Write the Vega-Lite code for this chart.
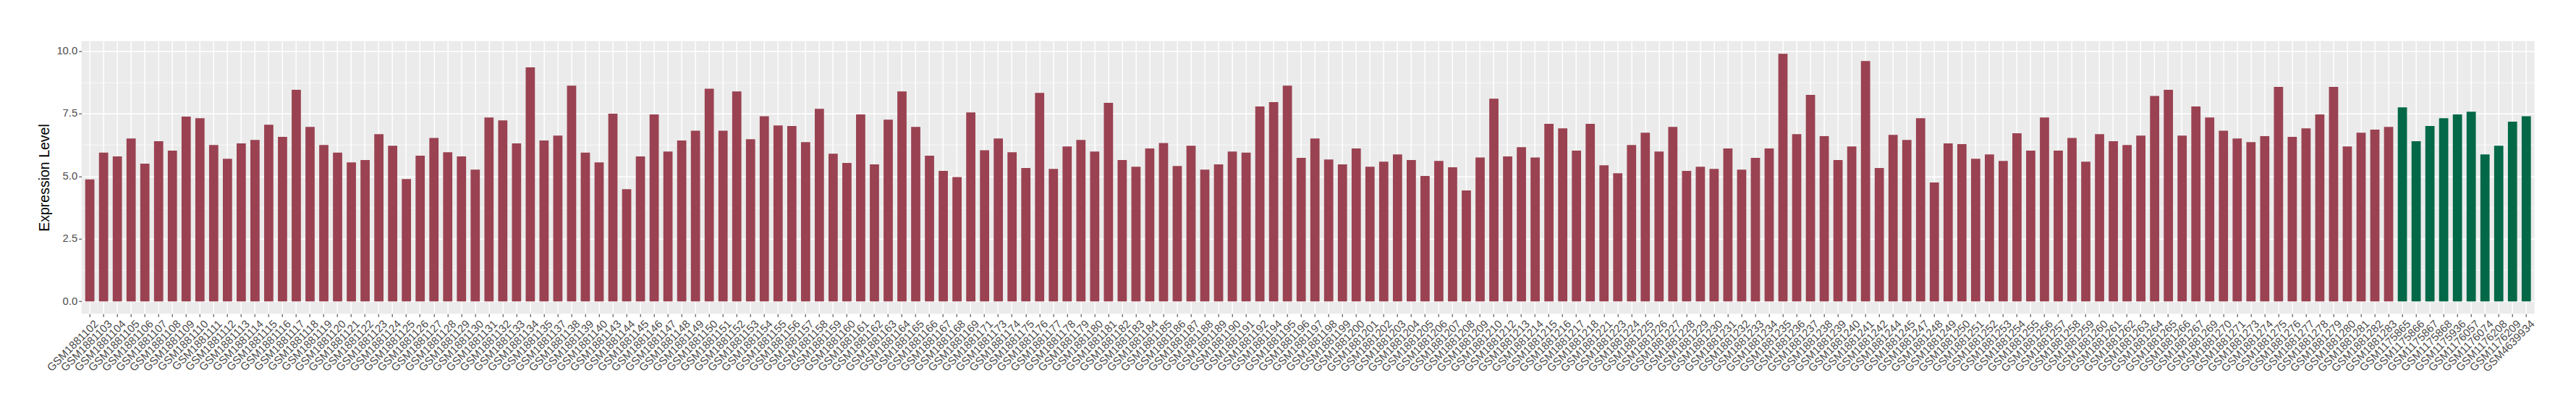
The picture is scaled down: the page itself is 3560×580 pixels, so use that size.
{
  "$schema": "https://vega.github.io/schema/vega-lite/v6.json",
  "autosize": {"type": "none"},
  "width": 3390,
  "height": 376.6,
  "padding": {"left": 112.7, "top": 56.7, "right": 57.3, "bottom": 146.7},
  "background": "white",
  "view": {"fill": "#EBEBEB", "stroke": null},
  "data": {"values": [
    {"sample": "GSM1881102", "value": 4.87, "group": "A"},
    {"sample": "GSM1881103", "value": 5.94, "group": "A"},
    {"sample": "GSM1881104", "value": 5.79, "group": "A"},
    {"sample": "GSM1881105", "value": 6.51, "group": "A"},
    {"sample": "GSM1881106", "value": 5.50, "group": "A"},
    {"sample": "GSM1881107", "value": 6.40, "group": "A"},
    {"sample": "GSM1881108", "value": 6.02, "group": "A"},
    {"sample": "GSM1881109", "value": 7.38, "group": "A"},
    {"sample": "GSM1881110", "value": 7.32, "group": "A"},
    {"sample": "GSM1881111", "value": 6.25, "group": "A"},
    {"sample": "GSM1881112", "value": 5.70, "group": "A"},
    {"sample": "GSM1881113", "value": 6.31, "group": "A"},
    {"sample": "GSM1881114", "value": 6.45, "group": "A"},
    {"sample": "GSM1881115", "value": 7.06, "group": "A"},
    {"sample": "GSM1881116", "value": 6.57, "group": "A"},
    {"sample": "GSM1881117", "value": 8.45, "group": "A"},
    {"sample": "GSM1881118", "value": 6.97, "group": "A"},
    {"sample": "GSM1881119", "value": 6.25, "group": "A"},
    {"sample": "GSM1881120", "value": 5.94, "group": "A"},
    {"sample": "GSM1881121", "value": 5.55, "group": "A"},
    {"sample": "GSM1881122", "value": 5.65, "group": "A"},
    {"sample": "GSM1881123", "value": 6.68, "group": "A"},
    {"sample": "GSM1881124", "value": 6.22, "group": "A"},
    {"sample": "GSM1881125", "value": 4.89, "group": "A"},
    {"sample": "GSM1881126", "value": 5.82, "group": "A"},
    {"sample": "GSM1881127", "value": 6.53, "group": "A"},
    {"sample": "GSM1881128", "value": 5.96, "group": "A"},
    {"sample": "GSM1881129", "value": 5.79, "group": "A"},
    {"sample": "GSM1881130", "value": 5.26, "group": "A"},
    {"sample": "GSM1881131", "value": 7.35, "group": "A"},
    {"sample": "GSM1881132", "value": 7.23, "group": "A"},
    {"sample": "GSM1881133", "value": 6.31, "group": "A"},
    {"sample": "GSM1881134", "value": 9.35, "group": "A"},
    {"sample": "GSM1881135", "value": 6.43, "group": "A"},
    {"sample": "GSM1881137", "value": 6.62, "group": "A"},
    {"sample": "GSM1881138", "value": 8.62, "group": "A"},
    {"sample": "GSM1881139", "value": 5.94, "group": "A"},
    {"sample": "GSM1881140", "value": 5.55, "group": "A"},
    {"sample": "GSM1881143", "value": 7.50, "group": "A"},
    {"sample": "GSM1881144", "value": 4.48, "group": "A"},
    {"sample": "GSM1881145", "value": 5.79, "group": "A"},
    {"sample": "GSM1881146", "value": 7.47, "group": "A"},
    {"sample": "GSM1881147", "value": 5.99, "group": "A"},
    {"sample": "GSM1881148", "value": 6.43, "group": "A"},
    {"sample": "GSM1881149", "value": 6.82, "group": "A"},
    {"sample": "GSM1881150", "value": 8.50, "group": "A"},
    {"sample": "GSM1881151", "value": 6.82, "group": "A"},
    {"sample": "GSM1881152", "value": 8.39, "group": "A"},
    {"sample": "GSM1881153", "value": 6.48, "group": "A"},
    {"sample": "GSM1881154", "value": 7.40, "group": "A"},
    {"sample": "GSM1881155", "value": 7.03, "group": "A"},
    {"sample": "GSM1881156", "value": 7.01, "group": "A"},
    {"sample": "GSM1881157", "value": 6.36, "group": "A"},
    {"sample": "GSM1881158", "value": 7.69, "group": "A"},
    {"sample": "GSM1881159", "value": 5.90, "group": "A"},
    {"sample": "GSM1881160", "value": 5.53, "group": "A"},
    {"sample": "GSM1881161", "value": 7.47, "group": "A"},
    {"sample": "GSM1881162", "value": 5.47, "group": "A"},
    {"sample": "GSM1881163", "value": 7.26, "group": "A"},
    {"sample": "GSM1881164", "value": 8.39, "group": "A"},
    {"sample": "GSM1881165", "value": 6.97, "group": "A"},
    {"sample": "GSM1881166", "value": 5.82, "group": "A"},
    {"sample": "GSM1881167", "value": 5.21, "group": "A"},
    {"sample": "GSM1881168", "value": 4.97, "group": "A"},
    {"sample": "GSM1881169", "value": 7.55, "group": "A"},
    {"sample": "GSM1881171", "value": 6.04, "group": "A"},
    {"sample": "GSM1881173", "value": 6.51, "group": "A"},
    {"sample": "GSM1881174", "value": 5.96, "group": "A"},
    {"sample": "GSM1881175", "value": 5.33, "group": "A"},
    {"sample": "GSM1881176", "value": 8.33, "group": "A"},
    {"sample": "GSM1881177", "value": 5.29, "group": "A"},
    {"sample": "GSM1881178", "value": 6.19, "group": "A"},
    {"sample": "GSM1881179", "value": 6.45, "group": "A"},
    {"sample": "GSM1881180", "value": 5.99, "group": "A"},
    {"sample": "GSM1881181", "value": 7.93, "group": "A"},
    {"sample": "GSM1881182", "value": 5.65, "group": "A"},
    {"sample": "GSM1881183", "value": 5.38, "group": "A"},
    {"sample": "GSM1881184", "value": 6.11, "group": "A"},
    {"sample": "GSM1881185", "value": 6.33, "group": "A"},
    {"sample": "GSM1881186", "value": 5.41, "group": "A"},
    {"sample": "GSM1881187", "value": 6.22, "group": "A"},
    {"sample": "GSM1881188", "value": 5.26, "group": "A"},
    {"sample": "GSM1881189", "value": 5.47, "group": "A"},
    {"sample": "GSM1881190", "value": 5.99, "group": "A"},
    {"sample": "GSM1881191", "value": 5.94, "group": "A"},
    {"sample": "GSM1881192", "value": 7.79, "group": "A"},
    {"sample": "GSM1881194", "value": 7.96, "group": "A"},
    {"sample": "GSM1881195", "value": 8.62, "group": "A"},
    {"sample": "GSM1881196", "value": 5.73, "group": "A"},
    {"sample": "GSM1881197", "value": 6.51, "group": "A"},
    {"sample": "GSM1881198", "value": 5.67, "group": "A"},
    {"sample": "GSM1881199", "value": 5.47, "group": "A"},
    {"sample": "GSM1881200", "value": 6.11, "group": "A"},
    {"sample": "GSM1881201", "value": 5.38, "group": "A"},
    {"sample": "GSM1881202", "value": 5.58, "group": "A"},
    {"sample": "GSM1881203", "value": 5.87, "group": "A"},
    {"sample": "GSM1881204", "value": 5.65, "group": "A"},
    {"sample": "GSM1881205", "value": 5.01, "group": "A"},
    {"sample": "GSM1881206", "value": 5.61, "group": "A"},
    {"sample": "GSM1881207", "value": 5.36, "group": "A"},
    {"sample": "GSM1881208", "value": 4.43, "group": "A"},
    {"sample": "GSM1881209", "value": 5.75, "group": "A"},
    {"sample": "GSM1881210", "value": 8.10, "group": "A"},
    {"sample": "GSM1881212", "value": 5.79, "group": "A"},
    {"sample": "GSM1881213", "value": 6.16, "group": "A"},
    {"sample": "GSM1881214", "value": 5.75, "group": "A"},
    {"sample": "GSM1881215", "value": 7.09, "group": "A"},
    {"sample": "GSM1881216", "value": 6.91, "group": "A"},
    {"sample": "GSM1881217", "value": 6.02, "group": "A"},
    {"sample": "GSM1881218", "value": 7.09, "group": "A"},
    {"sample": "GSM1881221", "value": 5.44, "group": "A"},
    {"sample": "GSM1881223", "value": 5.12, "group": "A"},
    {"sample": "GSM1881224", "value": 6.25, "group": "A"},
    {"sample": "GSM1881225", "value": 6.74, "group": "A"},
    {"sample": "GSM1881226", "value": 5.99, "group": "A"},
    {"sample": "GSM1881227", "value": 6.97, "group": "A"},
    {"sample": "GSM1881228", "value": 5.21, "group": "A"},
    {"sample": "GSM1881229", "value": 5.38, "group": "A"},
    {"sample": "GSM1881230", "value": 5.29, "group": "A"},
    {"sample": "GSM1881231", "value": 6.11, "group": "A"},
    {"sample": "GSM1881232", "value": 5.26, "group": "A"},
    {"sample": "GSM1881233", "value": 5.73, "group": "A"},
    {"sample": "GSM1881234", "value": 6.11, "group": "A"},
    {"sample": "GSM1881235", "value": 9.89, "group": "A"},
    {"sample": "GSM1881236", "value": 6.68, "group": "A"},
    {"sample": "GSM1881237", "value": 8.25, "group": "A"},
    {"sample": "GSM1881238", "value": 6.60, "group": "A"},
    {"sample": "GSM1881239", "value": 5.65, "group": "A"},
    {"sample": "GSM1881240", "value": 6.19, "group": "A"},
    {"sample": "GSM1881241", "value": 9.60, "group": "A"},
    {"sample": "GSM1881242", "value": 5.33, "group": "A"},
    {"sample": "GSM1881244", "value": 6.65, "group": "A"},
    {"sample": "GSM1881245", "value": 6.45, "group": "A"},
    {"sample": "GSM1881247", "value": 7.32, "group": "A"},
    {"sample": "GSM1881248", "value": 4.75, "group": "A"},
    {"sample": "GSM1881249", "value": 6.31, "group": "A"},
    {"sample": "GSM1881250", "value": 6.28, "group": "A"},
    {"sample": "GSM1881251", "value": 5.70, "group": "A"},
    {"sample": "GSM1881252", "value": 5.87, "group": "A"},
    {"sample": "GSM1881253", "value": 5.61, "group": "A"},
    {"sample": "GSM1881254", "value": 6.72, "group": "A"},
    {"sample": "GSM1881255", "value": 6.02, "group": "A"},
    {"sample": "GSM1881256", "value": 7.35, "group": "A"},
    {"sample": "GSM1881257", "value": 6.02, "group": "A"},
    {"sample": "GSM1881258", "value": 6.53, "group": "A"},
    {"sample": "GSM1881259", "value": 5.58, "group": "A"},
    {"sample": "GSM1881260", "value": 6.68, "group": "A"},
    {"sample": "GSM1881261", "value": 6.40, "group": "A"},
    {"sample": "GSM1881262", "value": 6.25, "group": "A"},
    {"sample": "GSM1881263", "value": 6.62, "group": "A"},
    {"sample": "GSM1881264", "value": 8.21, "group": "A"},
    {"sample": "GSM1881265", "value": 8.45, "group": "A"},
    {"sample": "GSM1881266", "value": 6.62, "group": "A"},
    {"sample": "GSM1881267", "value": 7.79, "group": "A"},
    {"sample": "GSM1881269", "value": 7.35, "group": "A"},
    {"sample": "GSM1881270", "value": 6.82, "group": "A"},
    {"sample": "GSM1881271", "value": 6.51, "group": "A"},
    {"sample": "GSM1881273", "value": 6.36, "group": "A"},
    {"sample": "GSM1881274", "value": 6.60, "group": "A"},
    {"sample": "GSM1881275", "value": 8.57, "group": "A"},
    {"sample": "GSM1881276", "value": 6.57, "group": "A"},
    {"sample": "GSM1881277", "value": 6.91, "group": "A"},
    {"sample": "GSM1881278", "value": 7.47, "group": "A"},
    {"sample": "GSM1881279", "value": 8.57, "group": "A"},
    {"sample": "GSM1881280", "value": 6.19, "group": "A"},
    {"sample": "GSM1881281", "value": 6.74, "group": "A"},
    {"sample": "GSM1881282", "value": 6.86, "group": "A"},
    {"sample": "GSM1881283", "value": 6.97, "group": "A"},
    {"sample": "GSM1175865", "value": 7.75, "group": "B"},
    {"sample": "GSM1175866", "value": 6.40, "group": "B"},
    {"sample": "GSM1175867", "value": 7.01, "group": "B"},
    {"sample": "GSM1175868", "value": 7.32, "group": "B"},
    {"sample": "GSM1175936", "value": 7.47, "group": "B"},
    {"sample": "GSM1176057", "value": 7.58, "group": "B"},
    {"sample": "GSM1176074", "value": 5.87, "group": "B"},
    {"sample": "GSM1176208", "value": 6.22, "group": "B"},
    {"sample": "GSM1176209", "value": 7.18, "group": "B"},
    {"sample": "GSM4639934", "value": 7.40, "group": "B"}
  ]},
  "mark": {"type": "bar"},
  "encoding": {
    "x": {
      "field": "sample", "type": "nominal", "sort": null,
      "scale": {"paddingInner": 0.33, "paddingOuter": 0.265},
      "axis": {
        "title": null, "labelAngle": -45, "labelAlign": "right", "labelBaseline": "top",
        "labelFont": "Liberation Sans", "labelFontSize": 15.2, "labelColor": "#4D4D4D",
        "labelPadding": 2, "labelOffset": 4, "labelOverlap": false, "labelLimit": 0,
        "tickSize": 4, "tickColor": "#333333", "tickWidth": 1, "domain": false,
        "grid": true, "gridColor": "#FFFFFF", "gridWidth": 1.5
      }
    },
    "y": {
      "field": "value", "type": "quantitative",
      "scale": {"domain": [-0.495, 10.4], "nice": false, "zero": false},
      "axis": {
        "title": "Expression Level", "titleFont": "Liberation Sans", "titleFontSize": 19.5,
        "titleFontWeight": "normal", "titleColor": "#000000", "titlePadding": 6,
        "values": [0, 1.25, 2.5, 3.75, 5, 6.25, 7.5, 8.75, 10],
        "labelExpr": "datum.value % 2.5 === 0 ? format(datum.value, '.1f') : ''",
        "labelFont": "Liberation Sans", "labelFontSize": 14.8, "labelColor": "#4D4D4D",
        "labelPadding": 2, "domain": false,
        "tickSize": 4, "tickColor": "#333333",
        "tickOpacity": {"condition": {"test": "datum.value % 2.5 === 0", "value": 1}, "value": 0},
        "grid": true, "gridColor": "#FFFFFF",
        "gridWidth": {"condition": {"test": "datum.value % 2.5 === 0", "value": 1.5}, "value": 0.75}
      }
    },
    "color": {
      "field": "group", "type": "nominal",
      "scale": {"domain": ["A", "B"], "range": ["#9A4251", "#026847"]},
      "legend": null
    }
  }
}
